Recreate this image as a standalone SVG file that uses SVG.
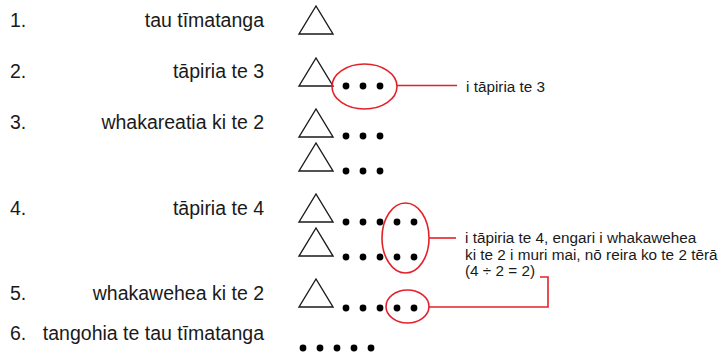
<svg xmlns="http://www.w3.org/2000/svg" width="726" height="359" viewBox="0 0 726 359">
<style>
.lbl{font-family:"Liberation Sans",Arial,sans-serif;font-size:19.5px;fill:#1a1a1a}
.r{text-anchor:end}
.ann{font-family:"Liberation Sans",Arial,sans-serif;font-size:15.3px;fill:#1a1a1a}
.tri{fill:none;stroke:#1a1a1a;stroke-width:1.4;stroke-linejoin:miter}
.dot{fill:#000}
.ring{fill:none;stroke:#e3212b;stroke-width:1.6}
.con{fill:none;stroke:#e3212b;stroke-width:1.6}
</style>
<defs>
<path id="t" class="tri" d="M0,0 L17,-28 L34,0 Z"/>
<circle id="d" class="dot" r="3.4"/>
</defs>
<rect width="726" height="359" fill="#fff"/>
<g id="step1">
<text class="lbl" x="10" y="27">1.</text>
<text class="lbl r" x="264" y="27">tau tīmatanga</text>
<use href="#t" x="299" y="34"/>
</g>
<g id="step2">
<text class="lbl" x="10" y="78">2.</text>
<text class="lbl r" x="264" y="78">tāpiria te 3</text>
<use href="#t" x="299" y="86"/>
<use href="#d" x="346" y="86"/><use href="#d" x="363" y="86"/><use href="#d" x="380" y="86"/>
<ellipse class="ring" cx="364.5" cy="86.5" rx="32.5" ry="22.5"/>
</g>
<g id="step3">
<text class="lbl" x="10" y="129">3.</text>
<text class="lbl r" x="264" y="129">whakareatia ki te 2</text>
<use href="#t" x="299" y="137"/>
<use href="#d" x="346" y="136"/><use href="#d" x="363" y="136"/><use href="#d" x="380" y="136"/>
<use href="#t" x="299" y="171"/>
<use href="#d" x="346" y="171"/><use href="#d" x="363" y="171"/><use href="#d" x="380" y="171"/>
</g>
<g id="step4">
<text class="lbl" x="10" y="215">4.</text>
<text class="lbl r" x="264" y="215">tāpiria te 4</text>
<use href="#t" x="299" y="222"/>
<use href="#d" x="346" y="222"/><use href="#d" x="363" y="222"/><use href="#d" x="380" y="222"/><use href="#d" x="397" y="222"/><use href="#d" x="414" y="222"/>
<use href="#t" x="299" y="256"/>
<use href="#d" x="346" y="257"/><use href="#d" x="363" y="257"/><use href="#d" x="380" y="257"/><use href="#d" x="397" y="257"/><use href="#d" x="414" y="257"/>
<ellipse class="ring" cx="405.5" cy="238" rx="23.5" ry="35"/>
</g>
<g id="step5">
<text class="lbl" x="10" y="300">5.</text>
<text class="lbl r" x="264" y="300">whakawehea ki te 2</text>
<use href="#t" x="299" y="307"/>
<use href="#d" x="346" y="308"/><use href="#d" x="363" y="308"/><use href="#d" x="380" y="308"/><use href="#d" x="397" y="308"/><use href="#d" x="414" y="308"/>
<ellipse class="ring" cx="407.5" cy="306.5" rx="21.5" ry="16.5"/>
</g>
<g id="step6">
<text class="lbl" x="10" y="340">6.</text>
<text class="lbl r" x="264" y="340">tangohia te tau tīmatanga</text>
<use href="#d" x="303" y="348"/><use href="#d" x="320" y="348"/><use href="#d" x="337" y="348"/><use href="#d" x="354" y="348"/><use href="#d" x="371" y="348"/>
</g>
<g id="note1">
<text class="ann" x="466" y="92">i tāpiria te 3</text>
</g>
<g id="note2">
<text class="ann" x="465" y="243">i tāpiria te 4, engari i whakawehea</text>
<text class="ann" x="465" y="259.5">ki te 2 i muri mai, nō reira ko te 2 tērā</text>
<text class="ann" x="465" y="276">(4 ÷ 2 = 2)</text>
</g>
<g id="connectors">
<line class="con" x1="397" y1="85.5" x2="457" y2="85.5"/>
<line class="con" x1="429" y1="238" x2="456" y2="238"/>
<polyline class="con" points="429,307 548,307 548,277 540,277"/>
</g>
</svg>
